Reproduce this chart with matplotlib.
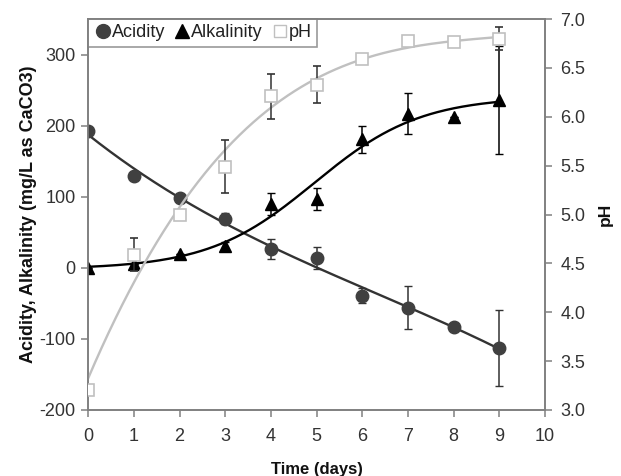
import numpy as np
import matplotlib
matplotlib.use("Agg")
import matplotlib.pyplot as plt
from matplotlib.lines import Line2D

plt.rcParams['font.family'] = ['Liberation Sans', 'DejaVu Sans']
plt.rcParams['axes.unicode_minus'] = False

days = [0, 1, 2, 3, 4, 5, 6, 7, 8, 9]
acidity = [193, 129, 98, 69, 26, 14, -39, -56, -83, -113]
acidity_err = [0, 0, 3, 8, 14, 15, 10, 30, 4, 53]
alkalinity = [0, 5, 19, 31, 90, 97, 181, 217, 212, 236]
alkalinity_err = [0, 0, 0, 6, 15, 15, 19, 29, 0, 76]
ph = [3.20, 4.59, 4.99, 5.49, 6.21, 6.33, 6.59, 6.78, 6.76, 6.80]
ph_err = [0.02, 0.17, 0.05, 0.27, 0.23, 0.19, 0.02, 0.045, 0.05, 0.12]

x = np.array(days, dtype=float)
xs = np.linspace(0, 9, 300)


def logistic_fit(xv, yv, xe):
    yv = np.asarray(yv, float)
    best = None
    for r in np.linspace(0.2, 2.0, 91):
        for x0 in np.linspace(2.0, 7.0, 101):
            s = 1.0 / (1.0 + np.exp(-r * (xv - x0)))
            A = np.vstack([np.ones_like(s), s]).T
            c, *_ = np.linalg.lstsq(A, yv, rcond=None)
            err = np.sum((A @ c - yv) ** 2)
            if best is None or err < best[0]:
                best = (err, r, x0, c)
    _, r, x0, c = best
    return c[0] + c[1] / (1.0 + np.exp(-r * (xe - x0)))


fig = plt.figure(figsize=(6.21, 4.76), dpi=100)
ax = fig.add_axes([0.142, 0.1387, 0.7356, 0.8213])
ax2 = ax.twinx()

spine_c = '#808080'
dark = '#404040'
light = '#c0c0c0'
errc = '#333333'

# trend lines
ac_fit = np.polyval(np.polyfit(x, acidity, 3), xs)
al_fit = logistic_fit(x, alkalinity, xs)
ph_fit = np.polyval(np.polyfit(x, ph, 3), xs)

ax.plot(xs, ac_fit, color='#333333', lw=1.7, zorder=2)
ax.plot(xs, al_fit, color='#000000', lw=1.7, zorder=2)
ax2.plot(xs, ph_fit, color=light, lw=1.7, zorder=2)

ax.errorbar(x, acidity, yerr=acidity_err, fmt='o', color=dark, ms=9,
            ecolor=errc, elinewidth=1.1, capsize=3.2, zorder=3)
ax.errorbar(x, alkalinity, yerr=alkalinity_err, fmt='^', color='#000000', ms=9,
            ecolor='#000000', elinewidth=1.1, capsize=3.2, zorder=3)
ax2.errorbar(x, ph, yerr=ph_err, fmt='s', mfc='white', mec=light, mew=1.2, ms=8,
             ecolor=errc, elinewidth=1.1, capsize=3.2, zorder=3)

ax.set_xlim(0, 10)
ax.set_ylim(-200, 350)
ax2.set_ylim(3.0, 7.0)
ax.set_xticks(range(0, 11))
ax.set_yticks([-200, -100, 0, 100, 200, 300])
ph_ticks = [3.0, 3.5, 4.0, 4.5, 5.0, 5.5, 6.0, 6.5, 7.0]
ax2.set_yticks(ph_ticks)
ax2.set_yticklabels([f"{v:.1f}" for v in ph_ticks])

for a in (ax, ax2):
    for s in a.spines.values():
        s.set_color(spine_c)
        s.set_linewidth(1.2)
    a.tick_params(colors=spine_c, labelcolor='#333333', labelsize=13, length=5, width=1.1)
ax.tick_params(axis='x', pad=8)
ax.tick_params(axis='y', pad=4)
ax2.tick_params(axis='y', pad=6)

ax.set_xlabel('Time (days)', fontsize=12, fontweight='bold', labelpad=12, color='#111111')
ax.set_ylabel('Acidity, Alkalinity (mg/L as CaCO3)', fontsize=13, fontweight='bold',
              labelpad=2, color='#111111')
ax2.set_ylabel('pH', fontsize=12.5, fontweight='bold', labelpad=9, color='#111111')

handles = [Line2D([], [], marker='o', ls='', color=dark, ms=10),
           Line2D([], [], marker='^', ls='', color='#000000', ms=10),
           Line2D([], [], marker='s', ls='', mfc='white', mec=light, ms=9)]
leg = ax.legend(handles, ['Acidity', 'Alkalinity', 'pH'], loc='upper left', ncol=3,
                frameon=True, fancybox=False, edgecolor=spine_c, fontsize=13,
                borderaxespad=0.0, handletextpad=0.0, columnspacing=0.45,
                handlelength=1.0, borderpad=0.3)
leg.get_frame().set_linewidth(1.2)
for t in leg.get_texts():
    t.set_color('#222222')

fig.savefig('out.png', dpi=100)
